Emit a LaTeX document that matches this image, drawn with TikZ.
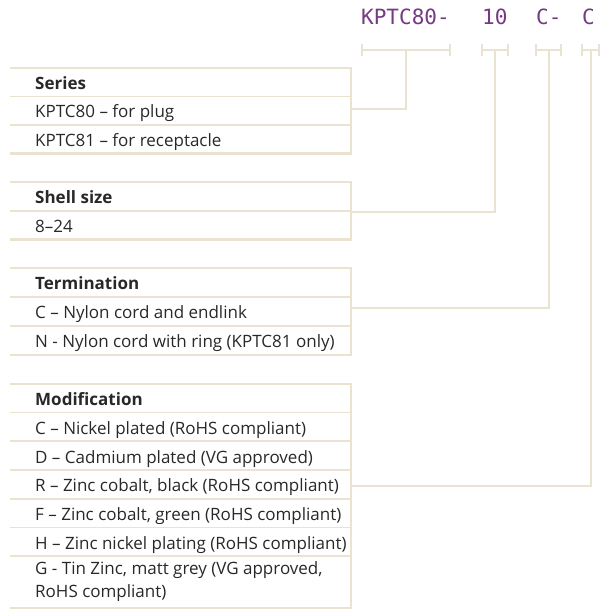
\documentclass[tikz,border=0pt]{standalone}
\usepackage{fontspec}
\setmainfont{Open Sans}
\newfontfamily\codefont{DejaVu Sans Mono}
\definecolor{linebeige}{RGB}{234,227,210}
\definecolor{codepurple}{RGB}{118,58,132}
\definecolor{textgrey}{RGB}{40,40,40}

% bracket under one part of the order code: name, left x, right x
\newcommand\partbracket[3]{%
  \coordinate (#1) at ({(#2+#3)/2},50);
  \draw[lead] (#2,50) -- (#3,50) (#2,44) -- (#2,56) (#3,44) -- (#3,56);}

\begin{document}
\begin{tikzpicture}[x=1pt, y=-1pt,
    rowrule/.style={draw=linebeige, line width=1.2pt},
    boxrule/.style={draw=linebeige, line width=2.6pt},
    lead/.style={draw=linebeige, line width=2pt},
    code/.style={font=\codefont\fontsize{21}{21}\selectfont, text=codepurple, inner sep=0pt, anchor=base west},
    cell/.style={font=\fontsize{17}{23}\selectfont, text=textgrey, inner sep=0pt, anchor=base west, align=left},
    head/.style={cell, font=\bfseries\fontsize{17}{23}\selectfont}]
  \useasboundingbox (0,0) rectangle (608,610);

  % Order code
  \node[code] (kser) at (361,25) {KPTC80-};
  \node[code] (ksize) at (482,25) {10};
  \node[code] (kterm) at (536,25) {C-};
  \node[code] (kmod) at (582,25) {C};
  \partbracket{bser}{362}{450}
  \partbracket{bsize}{482}{508}
  \partbracket{bterm}{536}{561}
  \partbracket{bmod}{582}{599}

  % Series
  \foreach \y in {96.5,125} \draw[rowrule] (10,\y) -- (351,\y);
  \draw[boxrule] (10,68) -- (351,68) -- (351,153.5) -- (10,153.5);
  \node[head] (serh) at (35,89) {Series};
  \node[cell] (ser1) at (35,117.5) {KPTC80 – for plug};
  \node[cell] (ser2) at (35,146) {KPTC81 – for receptacle};
  \coordinate (serR) at (351,109);

  % Shell size
  \draw[rowrule] (10,211) -- (351,211);
  \draw[boxrule] (10,182) -- (351,182) -- (351,239.5) -- (10,239.5);
  \node[head] (sizeh) at (35,203.5) {Shell size};
  \node[cell] (size1) at (35,232) {8–24};
  \coordinate (sizeR) at (351,212);

  % Termination
  \foreach \y in {297,326} \draw[rowrule] (10,\y) -- (351,\y);
  \draw[boxrule] (10,268) -- (351,268) -- (351,355) -- (10,355);
  \node[head] (termh) at (35,289.5) {Termination};
  \node[cell] (term1) at (35,318.5) {C – Nylon cord and endlink};
  \node[cell] (term2) at (35,347) {N - Nylon cord with ring (KPTC81 only)};
  \coordinate (termR) at (351,308);

  % Modification
  \foreach \y in {412.5,441,470,499,527.5,556} \draw[rowrule] (10,\y) -- (351,\y);
  \draw[boxrule] (10,384) -- (351,384) -- (351,608) -- (10,608);
  \node[head] (modh) at (35,405.5) {Modification};
  \node[cell] (mod1) at (35,434) {C – Nickel plated (RoHS compliant)};
  \node[cell] (mod2) at (35,463) {D – Cadmium plated (VG approved)};
  \node[cell] (mod3) at (35,491.5) {R – Zinc cobalt, black (RoHS compliant)};
  \node[cell] (mod4) at (35,520.5) {F – Zinc cobalt, green (RoHS compliant)};
  \node[cell] (mod5) at (35,549) {H – Zinc nickel plating (RoHS compliant)};
  \node[cell] (mod6) at (35,597) {G - Tin Zinc, matt grey (VG approved,\\RoHS compliant)};
  \coordinate (modR) at (351,486);

  % Leads from boxes up to the brackets
  \draw[lead] (serR) -| (bser);
  \draw[lead] (sizeR) -| (bsize);
  \draw[lead] (termR) -| (bterm);
  \draw[lead] (modR) -| (bmod);
\end{tikzpicture}
\end{document}
